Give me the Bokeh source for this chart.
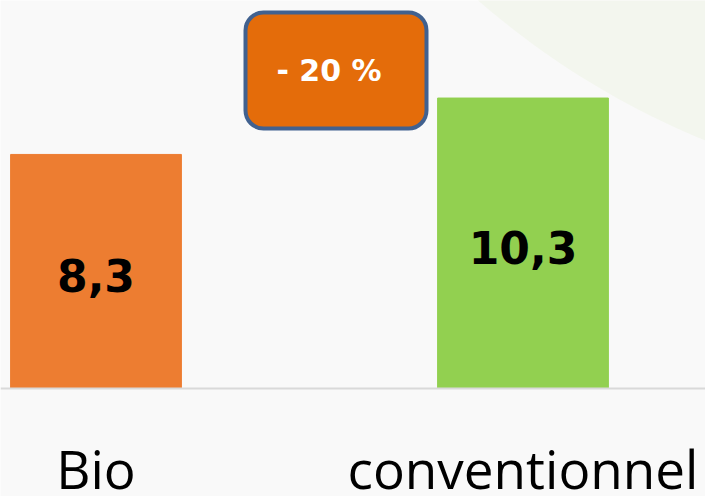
import numpy as np
from bokeh.plotting import figure
from bokeh.models import Range1d, Span, BoxAnnotation, ColumnDataSource
from bokeh.core.properties import value
from bokeh.embed import file_html
from bokeh.resources import INLINE

# Data
categories = ["Bio", "conventionnel"]
values = [8.3, 10.3]
value_labels = ["8,3", "10,3"]
bar_colors = ["#ED7D31", "#92D050"]
diff_label = "- 20 %"

xs = list(range(len(categories)))

W, H = 705, 496
BASE = 388          # screen row of the zero line
PX_PER_X = 427.0
PX_PER_Y = 28.2
X0 = -95.5 / PX_PER_X
Y_TOP = BASE / PX_PER_Y
Y_BOT = -(H - BASE) / PX_PER_Y


def sx(px):
    return X0 + px / PX_PER_X


def sy(py):
    return (BASE - py) / PX_PER_Y


p = figure(width=W, height=H, output_backend="svg", toolbar_location=None,
           x_range=Range1d(X0, X0 + W / PX_PER_X), y_range=Range1d(Y_BOT, Y_TOP),
           min_border=0, outline_line_color=None,
           background_fill_color="#F9F9F9", border_fill_color="#F9F9F9")
p.axis.visible = False
p.grid.visible = False

# decorative background arc (top right)
r = 811
t = np.linspace(0, 2 * np.pi, 400)
p.patch(sx(1011) + r * np.cos(t) / PX_PER_X, sy(-611) + r * np.sin(t) / PX_PER_Y,
        fill_color="#F3F6EE", line_color=None, level="image")

src = ColumnDataSource(dict(x=xs, top=values, color=bar_colors, lab=value_labels,
                            mid=[v / 2 for v in values], cat=categories))
p.vbar(x="x", top="top", width=0.4, bottom=0, color="color", source=src)

p.add_layout(Span(location=0, dimension="width", line_color="#D9D9D9", line_width=2))

p.text(x="x", y="mid", text="lab", source=src, text_align="center",
       text_baseline="middle", y_offset=4,
       text_font=value("DejaVu Sans"), text_font_style="bold",
       text_font_size="44px", text_color="black")

p.text(x="x", y=0, text="cat", source=src, text_align="center",
       text_baseline="alphabetic", y_offset=80,
       text_font=value("Open Sans"), text_font_size="53px", text_color="black")

# difference callout
box = BoxAnnotation(left=sx(245), right=sx(426), top=sy(12), bottom=sy(128),
                    fill_color="#E46C0A", fill_alpha=1,
                    line_color="#41618F", line_width=4, line_alpha=1,
                    border_radius=18, level="underlay")
p.add_layout(box)
p.text(x=[sx(328.5)], y=[sy(70)], text=[diff_label],
       text_align="center", text_baseline="middle",
       text_font=value("DejaVu Sans"), text_font_style="bold",
       text_font_size="30px", text_color="white")

open("out.html", "w").write(file_html(p, INLINE))
